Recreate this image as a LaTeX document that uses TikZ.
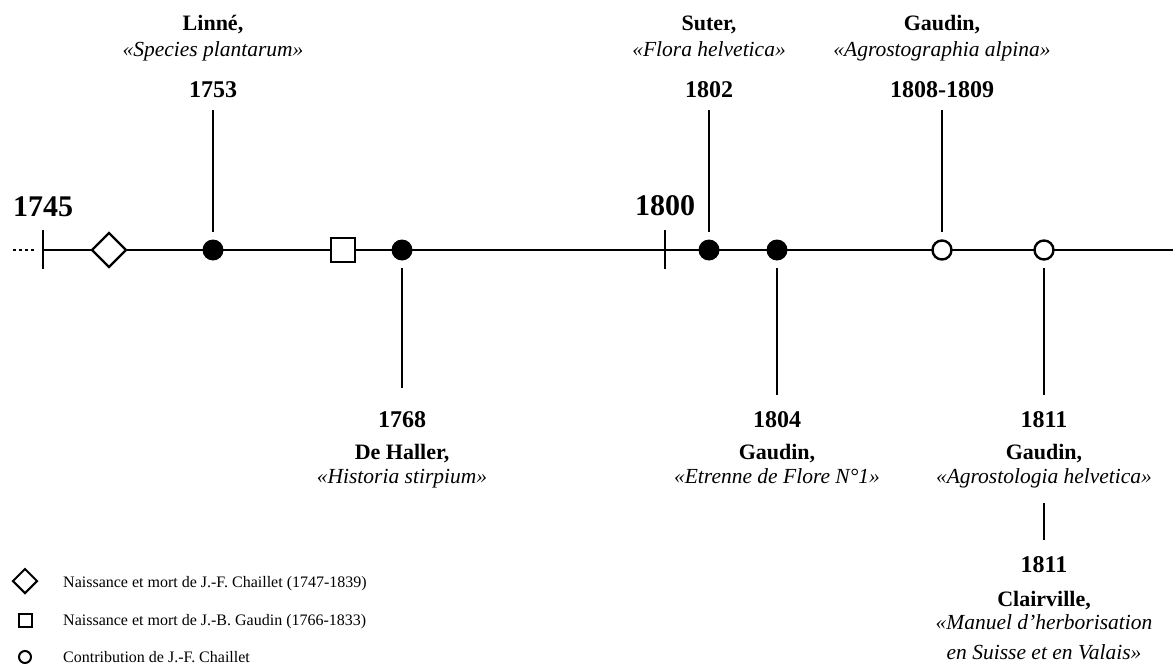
\documentclass[tikz,border=0pt]{standalone}
\usepackage{fontspec}
\setmainfont{Liberation Serif}
\usetikzlibrary{shapes.geometric}

\tikzset{
  axisline/.style = {line width=2.6pt},
  stem/.style = {line width=1.3pt},
  evdot/.style = {circle, fill=black, minimum size=21pt, inner sep=0pt},
  evring/.style = {circle, draw, fill=white, line width=2.4pt, minimum size=19pt, inner sep=0pt},
  bigyear/.style = {font=\fontsize{30}{30}\selectfont\bfseries, anchor=base, inner sep=0pt},
  year/.style = {font=\fontsize{24}{24}\selectfont\bfseries, anchor=base, inner sep=0pt},
  who/.style = {font=\fontsize{22}{22}\selectfont\bfseries, anchor=base, inner sep=0pt},
  work/.style = {font=\fontsize{21.5}{22}\selectfont\itshape, anchor=base, inner sep=0pt},
  legtext/.style = {font=\fontsize{16}{16}\selectfont, anchor=base west, inner sep=0pt}
}

\begin{document}
\begin{tikzpicture}[x=1pt, y=-1pt]
    \useasboundingbox (0,0) rectangle (1173,669);

    % time axis
    \coordinate (start) at (43,250);
    \coordinate (stop) at (1173,250);
    \coordinate (dots) at (13,250);
    \draw[axisline] (start) -- (stop);
    \draw[axisline, dash pattern=on 2.6pt off 3.4pt] (dots) -- (36,250);
    \draw[axisline] (43,230) -- (43,269);
    \draw[axisline] (665,230) -- (665,269);
    \node[bigyear] (y1745) at (43,216) {1745};
    \node[bigyear] (y1800) at (665,215) {1800};

    % births
    \node[diamond, draw, fill=white, line width=2.4pt, minimum size=35pt, inner sep=0pt] (chaillet) at (109,250) {};
    \node[rectangle, draw, fill=white, line width=2.4pt, minimum size=24pt, inner sep=0pt] (gaudin) at (343,250) {};

    % events
    \node[evdot] (e1753) at (213,250) {};
    \node[evdot] (e1768) at (402,250) {};
    \node[evdot] (e1802) at (709,250) {};
    \node[evdot] (e1804) at (777,250) {};
    \node[evring] (e1808) at (942,250) {};
    \node[evring] (e1811) at (1044,250) {};

    % above the axis
    \node[who] (w1753) at (213,31) {Linné,};
    \node[work] (t1753) at (213,57) {«Species plantarum»};
    \node[year] (y1753) at (213,98) {1753};
    \coordinate (s1753) at (213,110);
    \draw[stem, shorten >=7pt] (s1753) -- (e1753);

    \node[who] (w1802) at (709,31) {Suter,};
    \node[work] (t1802) at (709,57) {«Flora helvetica»};
    \node[year] (y1802) at (709,98) {1802};
    \coordinate (s1802) at (709,110);
    \draw[stem, shorten >=7pt] (s1802) -- (e1802);

    \node[who] (w1808) at (942,31) {Gaudin,};
    \node[work] (t1808) at (942,57) {«Agrostographia alpina»};
    \node[year] (y1808) at (942,98) {1808-1809};
    \coordinate (s1808) at (942,110);
    \draw[stem, shorten >=7pt] (s1808) -- (e1808);

    % below the axis
    \coordinate (s1768) at (402,388);
    \draw[stem, shorten >=7pt] (s1768) -- (e1768);
    \node[year] (y1768) at (402,427) {1768};
    \node[who] (w1768) at (402,459) {De Haller,};
    \node[work] (t1768) at (402,483) {«Historia stirpium»};

    \coordinate (s1804) at (777,395);
    \draw[stem, shorten >=7pt] (s1804) -- (e1804);
    \node[year] (y1804) at (777,427) {1804};
    \node[who] (w1804) at (777,459) {Gaudin,};
    \node[work] (t1804) at (777,483) {«Etrenne de Flore N°1»};

    \coordinate (s1811) at (1044,395);
    \draw[stem, shorten >=7pt] (s1811) -- (e1811);
    \node[year] (y1811) at (1044,427) {1811};
    \node[who] (w1811) at (1044,459) {Gaudin,};
    \node[work] (t1811) at (1044,483) {«Agrostologia helvetica»};

    \coordinate (a1811) at (1044,503);
    \coordinate (b1811) at (1044,540);
    \draw[stem] (a1811) -- (b1811);
    \node[year] (y1811b) at (1044,572) {1811};
    \node[who] (w1811b) at (1044,606) {Clairville,};
    \node[work] (t1811b) at (1044,629) {«Manuel d'herborisation};
    \node[work] (u1811b) at (1044,659) {en Suisse et en Valais»};

    % legend
    \node[diamond, draw, line width=2pt, minimum size=25pt, inner sep=0pt] (kdiamond) at (25,581) {};
    \node[rectangle, draw, line width=2pt, minimum size=13pt, inner sep=0pt] (ksquare) at (25,620) {};
    \node[circle, draw, line width=2pt, minimum size=12pt, inner sep=0pt] (kring) at (25,657) {};
    \node[legtext] (ldiamond) at (63,587) {Naissance et mort de J.-F. Chaillet (1747-1839)};
    \node[legtext] (lsquare) at (63,625) {Naissance et mort de J.-B. Gaudin (1766-1833)};
    \node[legtext] (lring) at (63,662) {Contribution de J.-F. Chaillet};

\end{tikzpicture}
\end{document}
